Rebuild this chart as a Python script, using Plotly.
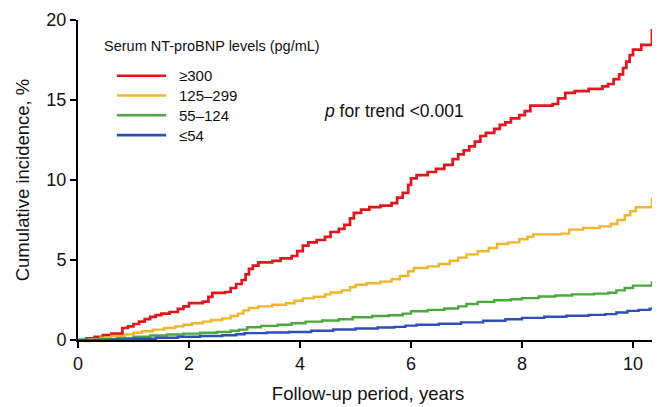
import plotly.graph_objects as go

# ---- data ----
series_names = ["≥300", "125–299", "55–124", "≤54"]
series_colors = ["#e2171d", "#f0b52a", "#4aa83c", "#2f4fb6"]

red_t = [0, 0.15, 0.3, 0.45, 0.6, 0.8, 0.9, 1.0, 1.1, 1.2, 1.3, 1.4, 1.5, 1.65, 1.8, 1.9, 2.0,
         2.25, 2.35, 2.42, 2.65, 2.75, 2.85, 2.95, 3.02, 3.08, 3.15, 3.25, 3.5, 3.65, 3.85, 3.95,
         4.05, 4.15, 4.3, 4.45, 4.55, 4.7, 4.8, 4.9, 4.97, 5.1, 5.25, 5.45, 5.65, 5.75, 5.85, 5.95,
         6.0, 6.1, 6.3, 6.45, 6.6, 6.75, 6.85, 6.95, 7.05, 7.15, 7.25, 7.35, 7.5, 7.6, 7.7, 7.8,
         7.95, 8.05, 8.15, 8.55, 8.65, 8.78, 8.95, 9.2, 9.45, 9.55, 9.65, 9.75, 9.82, 9.88, 9.94,
         10.0, 10.15, 10.34, 10.38]
red_y = [0, 0.1, 0.2, 0.3, 0.4, 0.75, 0.85, 1.0, 1.15, 1.3, 1.45, 1.55, 1.65, 1.75, 1.95, 2.1, 2.3,
         2.4, 2.7, 2.95, 3.0, 3.25, 3.5, 3.75, 4.1, 4.45, 4.65, 4.85, 4.95, 5.1, 5.25, 5.55,
         5.9, 6.1, 6.25, 6.45, 6.75, 6.95, 7.2, 7.6, 7.95, 8.15, 8.3, 8.4, 8.55, 8.9, 9.2, 9.7,
         10.1, 10.3, 10.5, 10.7, 10.95, 11.3, 11.6, 11.85, 12.1, 12.4, 12.75, 12.95, 13.2, 13.45, 13.6, 13.85,
         14.05, 14.3, 14.65, 14.75, 15.1, 15.45, 15.55, 15.7, 15.85, 16.0, 16.3, 16.6, 17.0, 17.4, 17.8,
         18.15, 18.45, 19.35, 19.35]

yellow_t = [0, 0.2, 0.4, 0.6, 0.85, 1.0, 1.15, 1.35, 1.55, 1.75, 1.9, 2.05, 2.25, 2.4, 2.6, 2.75,
            2.88, 2.98, 3.08, 3.25, 3.5, 3.75, 3.9, 4.05, 4.25, 4.45, 4.55, 4.75, 4.9, 5.0, 5.2,
            5.45, 5.65, 5.8, 5.95, 6.05, 6.3, 6.5, 6.7, 6.85, 7.0, 7.2, 7.4, 7.55, 7.75, 7.95, 8.1,
            8.2, 8.7, 8.85, 9.1, 9.4, 9.6, 9.72, 9.85, 9.95, 10.05, 10.34, 10.38]
yellow_y = [0, 0.05, 0.15, 0.25, 0.35, 0.45, 0.55, 0.65, 0.75, 0.85, 0.95, 1.05, 1.15, 1.25, 1.35, 1.5,
            1.65, 1.85, 2.0, 2.1, 2.2, 2.3, 2.45, 2.6, 2.7, 2.85, 2.97, 3.1, 3.3, 3.45, 3.55,
            3.65, 3.8, 4.0, 4.3, 4.5, 4.6, 4.75, 4.95, 5.15, 5.35, 5.55, 5.75, 6.0, 6.1, 6.3, 6.45,
            6.6, 6.65, 6.9, 7.0, 7.1, 7.25, 7.5, 7.8, 8.05, 8.3, 8.8, 8.8]

green_t = [0, 0.4, 0.7, 1.0, 1.3, 1.6, 1.9, 2.2, 2.5, 2.75, 2.9, 3.05, 3.3, 3.6, 3.85, 4.1, 4.4,
           4.7, 4.95, 5.3, 5.6, 5.85, 6.0, 6.3, 6.6, 6.85, 7.0, 7.2, 7.5, 7.8, 8.0, 8.3, 8.6, 8.9,
           9.3, 9.55, 9.7, 9.85, 10.0, 10.34, 10.38]
green_y = [0, 0.05, 0.12, 0.2, 0.28, 0.34, 0.4, 0.45, 0.5, 0.58, 0.65, 0.8, 0.88, 0.95, 1.05, 1.15, 1.22,
           1.3, 1.42, 1.5, 1.55, 1.65, 1.8, 1.88, 1.97, 2.1, 2.25, 2.38, 2.48, 2.55, 2.62, 2.72, 2.78, 2.85,
           2.9, 2.95, 3.1, 3.25, 3.4, 3.6, 3.6]

blue_t = [0, 0.6, 1.0, 1.4, 1.8, 2.2, 2.6, 2.85, 3.0, 3.4, 3.8, 4.2, 4.6, 5.0, 5.4, 5.7, 5.9, 6.1,
          6.5, 6.9, 7.3, 7.7, 8.0, 8.4, 8.8, 9.2, 9.5, 9.7, 9.9, 10.1, 10.3, 10.4]
blue_y = [0, 0.03, 0.08, 0.14, 0.2, 0.25, 0.3, 0.36, 0.43, 0.47, 0.5, 0.58, 0.66, 0.72, 0.78, 0.82, 0.9, 0.95,
          1.02, 1.1, 1.2, 1.3, 1.38, 1.45, 1.52, 1.57, 1.62, 1.72, 1.82, 1.88, 1.95, 1.95]

x_ticks = [0, 2, 4, 6, 8, 10]
y_ticks = [0, 5, 10, 15, 20]

legend_title = "Serum NT-proBNP levels (pg/mL)"
x_title = "Follow-up period, years"
y_title = "Cumulative incidence, %"
trend_text = "<i>p</i> for trend &lt;0.001"

FONT = "Liberation Sans, Arial, sans-serif"

fig = go.Figure()
all_t = [red_t, yellow_t, green_t, blue_t]
all_y = [red_y, yellow_y, green_y, blue_y]
widths = [2.7, 2.4, 2.4, 2.4]
for name, col, t, y, w in zip(series_names, series_colors, all_t, all_y, widths):
    fig.add_trace(go.Scatter(x=t, y=y, mode="lines", name=name, showlegend=False,
                             line=dict(color=col, width=w, shape="hv")))

# ---- legend drawn as annotations + short line swatches (paper coordinates) ----
fig.add_annotation(x=0.041, y=0.92, xref="paper", yref="paper", xanchor="left", yanchor="middle",
                   text=legend_title, showarrow=False, font=dict(family=FONT, size=14.5, color="#111"))
leg_y0, leg_dy = 0.826, 0.0619
for i, (name, col) in enumerate(zip(series_names, series_colors)):
    yy = leg_y0 - i * leg_dy
    fig.add_shape(type="line", xref="paper", yref="paper", x0=0.067, x1=0.152, y0=yy, y1=yy,
                  line=dict(color=col, width=2.6))
    fig.add_annotation(x=0.17, y=yy, xref="paper", yref="paper", xanchor="left", yanchor="middle",
                       text=name, showarrow=False, font=dict(family=FONT, size=15, color="#111"))

fig.add_annotation(x=5.7, y=14.3, xref="x", yref="y", text=trend_text, showarrow=False,
                   font=dict(family=FONT, size=17.5, color="#111"))

# the page adds an 8px body margin, so the figure is 8px smaller and shifted
fig.update_layout(
    width=652, height=399,
    margin=dict(l=70, r=2, t=9, b=67),
    paper_bgcolor="white", plot_bgcolor="white",
    font=dict(family=FONT, color="#111"),
    showlegend=False,
    xaxis=dict(range=[0, 10.45], tickvals=x_ticks, showgrid=False, zeroline=False,
               showline=True, linecolor="black", linewidth=2, ticks="outside", ticklen=6,
               tickwidth=2, tickcolor="black", tickfont=dict(size=18, family=FONT),
               ticklabeloverflow="allow",
               title=dict(text=x_title, font=dict(size=18.5, family=FONT), standoff=14)),
    yaxis=dict(range=[0, 20], tickvals=y_ticks, showgrid=False, zeroline=False,
               showline=True, linecolor="black", linewidth=2, ticks="outside", ticklen=6,
               tickwidth=2, tickcolor="black", tickfont=dict(size=18, family=FONT),
               ticklabeloverflow="allow",
               title=dict(text=y_title, font=dict(size=18.5, family=FONT), standoff=12)),
)

fig.write_html("out.html")
